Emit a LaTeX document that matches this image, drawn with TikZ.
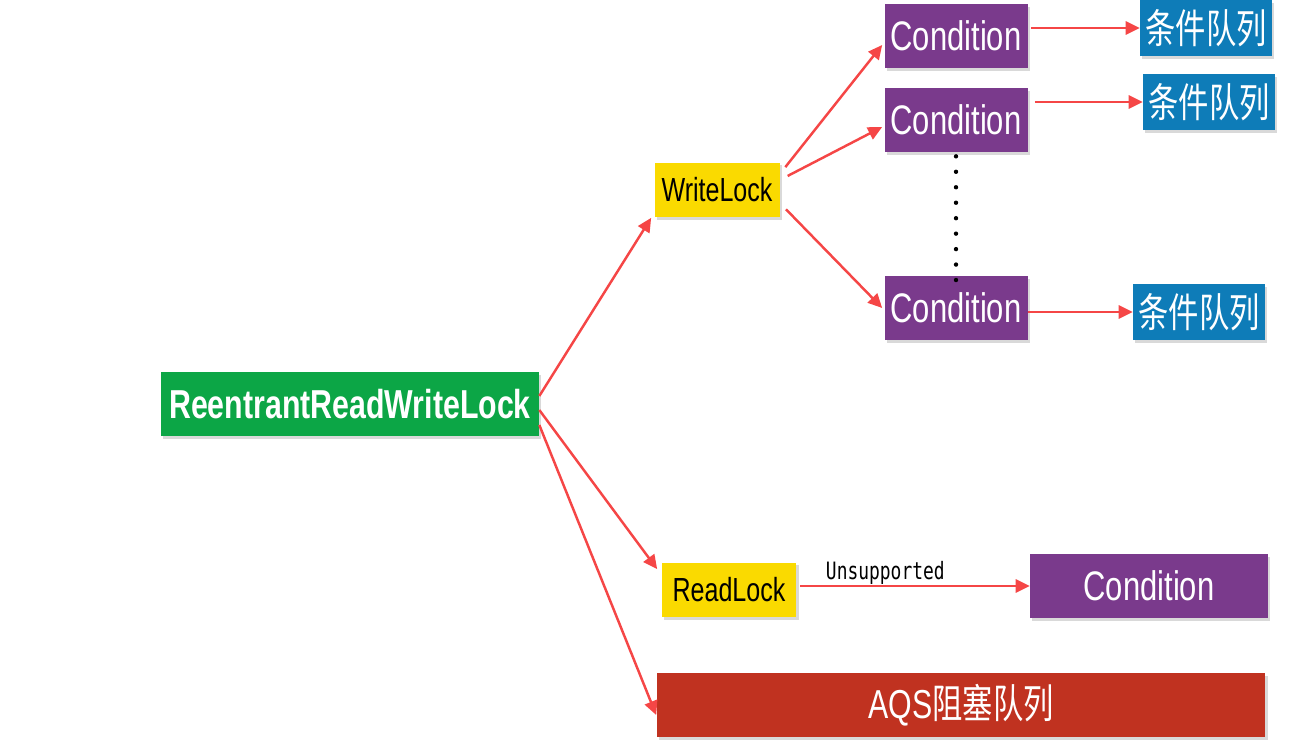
\documentclass[tikz,border=0pt]{standalone}
\usepackage{fontspec}
\setmainfont[FakeStretch=0.75]{Liberation Sans}
\newfontfamily\cjk[FakeStretch=0.75]{Noto Sans CJK SC}
\newfontfamily\codefont[FakeStretch=0.75]{DejaVu Sans Mono}
\usetikzlibrary{arrows.meta}
\usetikzlibrary{shadows}
\usetikzlibrary{positioning}

\definecolor{lockgreen}{RGB}{12,166,70}
\definecolor{lockyellow}{RGB}{250,218,0}
\definecolor{condpurple}{RGB}{122,58,140}
\definecolor{queueblue}{RGB}{14,124,184}
\definecolor{aqsred}{RGB}{192,50,32}
\definecolor{arrred}{RGB}{245,70,70}

\begin{document}
\begin{tikzpicture}[x=0.02cm, y=-0.02cm,
    >={Triangle[length=8pt,width=7.5pt]},
    box/.style={rectangle, inner sep=0pt, drop shadow={shadow xshift=1.3pt, shadow yshift=-1.5pt, opacity=0.3}},
    mainbox/.style={box, fill=lockgreen, text=white, minimum width=7.56cm, minimum height=1.28cm, font=\fontsize{23pt}{26pt}\selectfont\bfseries},
    lockbox/.style={box, fill=lockyellow, text=black, minimum width=2.5cm, minimum height=1.1cm, font=\fontsize{19pt}{22pt}\selectfont},
    condbox/.style={box, fill=condpurple, text=white, minimum width=2.86cm, minimum height=1.28cm, font=\fontsize{23.5pt}{26pt}\selectfont},
    queuebox/.style={box, fill=queueblue, text=white, minimum width=2.64cm, minimum height=1.12cm, font=\cjk\fontsize{23pt}{25pt}\selectfont},
    aqsbox/.style={box, fill=aqsred, text=white, minimum width=12.18cm, minimum height=1.28cm, font=\fontsize{23pt}{26pt}\selectfont},
    arr/.style={->, arrred, line width=1.4pt}]
        \useasboundingbox (0,0) rectangle (1304,746);
        \node [mainbox] (rrwl) at (350,404) {ReentrantReadWriteLock};
        \node [lockbox] (wl) at (717,190) {WriteLock};
        \node [lockbox, minimum width=2.7cm] (rl) at (729,590) {ReadLock};
        \node [condbox] (c1) at (956,36) {Condition};
        \node [condbox] (c2) at (956,120) {Condition};
        \node [condbox] (c3) at (956,308) {Condition};
        \node [condbox, minimum width=4.76cm] (c4) at (1149,586) {Condition};
        \node [queuebox] (q1) at (1206,28) {条件队列};
        \node [queuebox] (q2) at (1209,102) {条件队列};
        \node [queuebox] (q3) at (1199,312) {条件队列};
        \node [aqsbox] (aqs) at (961,705) {AQS{\cjk 阻塞队列}};
        \draw [arr] ([yshift=0.16cm]rrwl.east) -- ([xshift=-0.06cm]wl.south west);
        \draw [arr] ([yshift=-0.12cm]rrwl.east) -- ([xshift=-0.08cm,yshift=-0.14cm]rl.north west);
        \draw [arr] ([yshift=-0.42cm]rrwl.east) -- ([yshift=-0.2cm]aqs.west);
        \draw [arr, shorten <=5pt] ([yshift=0.32cm]wl.east) -- ([xshift=-0.04cm,yshift=-0.18cm]c1.west);
        \draw [arr, shorten <=5pt] ([yshift=0.2cm]wl.east) -- ([xshift=-0.04cm,yshift=-0.14cm]c2.west);
        \draw [arr, shorten <=5pt] ([yshift=-0.26cm]wl.east) -- ([xshift=-0.04cm]c3.west);
        \draw [arr, shorten <=2pt] (c1.east |- q1.west) -- (q1.west);
        \draw [arr, shorten <=4pt] (c2.east |- q2.west) -- (q2.west);
        \draw [arr] (c3.east |- q3.west) -- (q3.west);
        \draw [arr, shorten <=2pt] (rl.east |- c4.west) -- (c4.west)
            node (unsup) [pos=0.38, above=-3pt, black, font=\codefont\fontsize{13.6pt}{15pt}\selectfont] {Unsupported};
        \draw [black, line width=2.5pt, line cap=round, dash pattern=on 0pt off 8.8pt] ([yshift=-0.08cm]c2.south) -- ([yshift=-0.11cm]c3.north);
\end{tikzpicture}
\end{document}
